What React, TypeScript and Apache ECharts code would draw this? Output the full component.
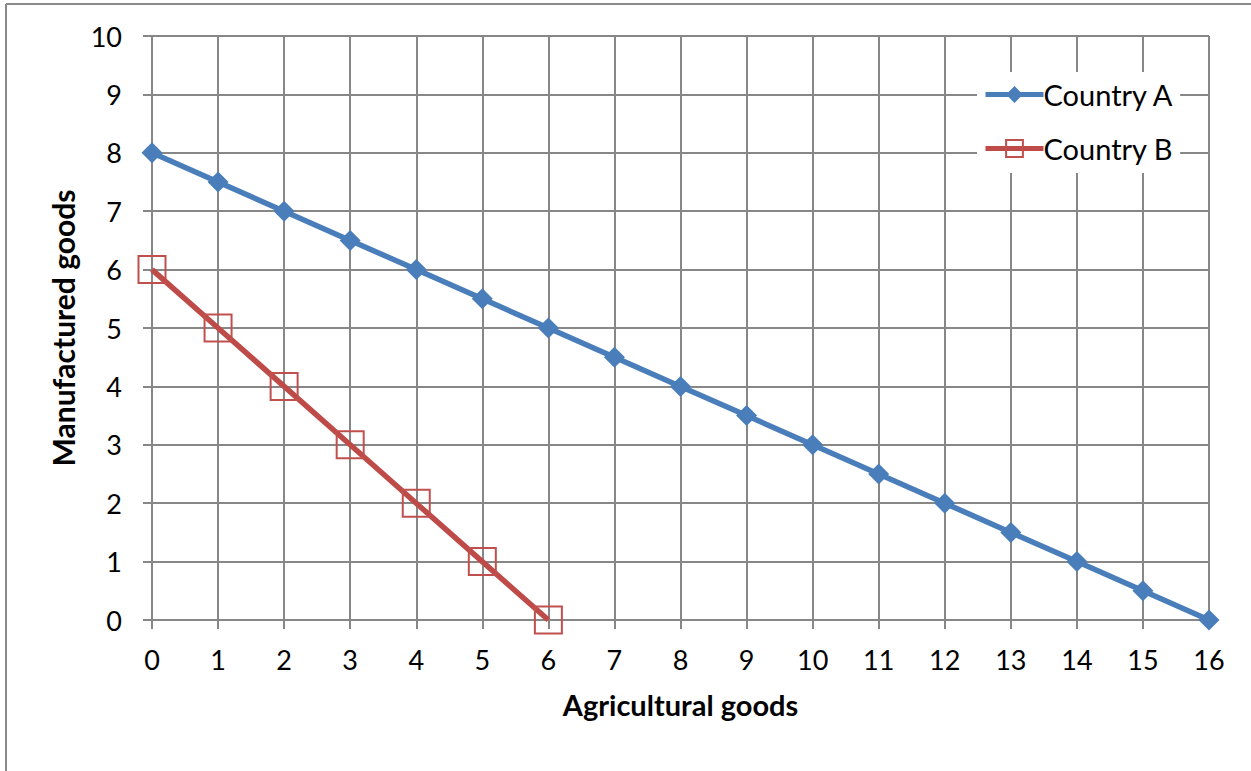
import React, { useEffect, useRef } from "react";
import * as echarts from "echarts";

const agriculturalA = [0, 1, 2, 3, 4, 5, 6, 7, 8, 9, 10, 11, 12, 13, 14, 15, 16];
const manufacturedA = [8, 7.5, 7, 6.5, 6, 5.5, 5, 4.5, 4, 3.5, 3, 2.5, 2, 1.5, 1, 0.5, 0];
const agriculturalB = [0, 1, 2, 3, 4, 5, 6];
const manufacturedB = [6, 5, 4, 3, 2, 1, 0];
const seriesNames = ["Country A", "Country B"];
const xTitle = "Agricultural goods";
const yTitle = "Manufactured goods";

export default function App() {
  const ref = useRef<HTMLDivElement>(null);
  useEffect(() => {
    if (!ref.current) return;
    const chart = echarts.init(ref.current, null, { renderer: "svg" });
    const font = "Lato, 'Open Sans', sans-serif";
    const gray = "#878787";
    chart.setOption({
      animation: false,
      backgroundColor: "#ffffff",
      textStyle: { fontFamily: font },
      grid: { left: 152, right: 42, top: 36, bottom: 151 },
      xAxis: {
        type: "value",
        min: 0,
        max: 16,
        interval: 1,
        name: xTitle,
        nameLocation: "middle",
        nameGap: 70,
        nameTextStyle: { fontSize: 29, fontWeight: "bold", color: "#000", fontFamily: font },
        axisLine: { show: true, lineStyle: { color: gray, width: 2 } },
        axisTick: { show: true, length: 9, lineStyle: { color: gray, width: 2 } },
        axisLabel: { fontSize: 27, color: "#000", margin: 26, fontFamily: font },
        splitLine: { show: true, lineStyle: { color: gray, width: 2 } },
      },
      yAxis: {
        type: "value",
        min: 0,
        max: 10,
        interval: 1,
        name: yTitle,
        nameLocation: "middle",
        nameGap: 74,
        nameTextStyle: { fontSize: 30, fontWeight: "bold", color: "#000", fontFamily: font },
        axisLine: { show: true, lineStyle: { color: gray, width: 2 } },
        axisTick: { show: true, length: 9, lineStyle: { color: gray, width: 2 } },
        axisLabel: { fontSize: 27, color: "#000", margin: 30, fontFamily: font },
        splitLine: { show: true, lineStyle: { color: gray, width: 2 } },
      },
      legend: {
        orient: "vertical",
        left: 977,
        top: 72,
        padding: [8, 6, 10, 6],
        itemGap: 25,
        itemWidth: 58,
        itemHeight: 21,
        backgroundColor: "#ffffff",
        textStyle: { fontSize: 29, color: "#000", fontFamily: font, padding: [0, 0, 0, -5] },
        data: [
          { name: seriesNames[0], lineStyle: { width: 5, color: "#4A7EBB" } },
          { name: seriesNames[1], lineStyle: { width: 5, color: "#BE4B48" } },
        ],
      },
      series: [
        {
          name: seriesNames[0],
          type: "line",
          data: agriculturalA.map((x, i) => [x, manufacturedA[i]]),
          symbol: "diamond",
          symbolSize: 21,
          lineStyle: { color: "#4A7EBB", width: 5.5 },
          itemStyle: { color: "#4A7EBB" },
          z: 3,
        },
        {
          name: seriesNames[1],
          type: "line",
          data: agriculturalB.map((x, i) => [x, manufacturedB[i]]),
          symbol: "rect",
          symbolSize: 27,
          lineStyle: { color: "#BE4B48", width: 5.5 },
          itemStyle: { color: "rgba(255,255,255,0)", borderColor: "#C0504D", borderWidth: 2 },
          z: 2,
        },
      ],
      graphic: [
        { type: "line", shape: { x1: 6, y1: 4, x2: 1251, y2: 4 }, style: { stroke: "#8a8a8a", lineWidth: 2 } },
        { type: "line", shape: { x1: 6, y1: 4, x2: 6, y2: 771 }, style: { stroke: "#8a8a8a", lineWidth: 2 } },
      ],
    });
    return () => chart.dispose();
  }, []);
  return (
    <div
      ref={ref}
      style={{ position: "fixed", left: 0, top: 0, width: 1251, height: 771, background: "#fff" }}
    />
  );
}
